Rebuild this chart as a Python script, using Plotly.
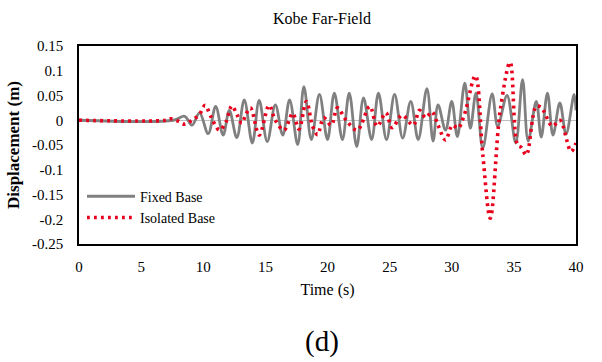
import plotly.graph_objects as go

# Fixed-base response: times (s) and displacements (m) at successive peaks/troughs
fixed_t = [0, 7.6, 8.5, 9.1, 9.7, 10.4, 11.0, 11.6, 12.1, 12.7, 13.3, 13.95, 14.5, 15.15,
           15.8, 16.4, 16.95, 17.6, 18.1, 18.7, 19.35, 20.0, 20.55, 21.2, 21.75, 22.35,
           22.9, 23.55, 24.1, 24.75, 25.4, 26.05, 26.7, 27.3, 28.0, 28.5, 28.9, 29.5,
           30.0, 30.45, 31.05, 31.5, 31.95, 32.5, 33.25, 33.7, 34.45, 35.15, 35.7, 36.15,
           36.8, 37.2, 37.7, 38.15, 38.7, 39.2, 39.85, 40]
fixed_v = [0, 0, 0.008, -0.01, 0.015, -0.027, 0.028, -0.03, 0.02, -0.035, 0.041, -0.046,
           0.04, -0.043, 0.031, -0.03, 0.041, -0.049, 0.068, -0.039, 0.052, -0.039, 0.055,
           -0.039, 0.055, -0.053, 0.045, -0.039, 0.055, -0.039, 0.052, -0.036, 0.038,
           -0.039, 0.064, -0.042, 0.031, -0.02, 0.038, -0.033, 0.075, -0.016, 0.055,
           -0.056, 0.053, -0.012, 0.05, -0.046, 0.082, -0.042, 0.038, -0.034, 0.055,
           -0.03, 0.035, -0.028, 0.052, 0.02]

# Isolated-base response
iso_t = [0, 7.0, 7.4, 8.0, 8.5, 9.1, 9.7, 10.15, 10.6, 11.3, 11.8, 12.3, 12.7, 13.1, 13.4,
         13.8, 14.5, 15.3, 15.8, 16.5, 17.2, 17.7, 18.3, 18.8, 19.2, 19.7, 20.3, 20.8,
         21.5, 22.4, 23.4, 24.0, 24.7, 25.2, 26.0, 26.9, 27.4, 27.9, 28.4, 28.9, 29.5,
         30.05, 30.5, 31.0, 31.9, 32.5, 33.1, 33.9, 34.7, 35.3, 35.6, 36.0, 36.8, 37.2,
         38.1, 38.7, 39.6, 40]
iso_v = [0, 0, 0.003, -0.002, -0.008, 0.0, 0.012, 0.03, 0.008, -0.02, -0.005, 0.029,
         0.012, -0.006, 0.01, 0.025, -0.03, 0.03, 0.0, -0.02, 0.014, -0.018, 0.038, -0.012,
         -0.029, 0.005, -0.01, 0.025, 0.0, -0.02, 0.028, -0.012, 0.015, -0.015, 0.01,
         -0.01, 0.02, 0.005, 0.017, -0.01, -0.04, -0.01, -0.016, 0.01, 0.09, -0.07,
         -0.198, 0.02, 0.117, -0.05, -0.055, -0.07, 0.028, 0.026, -0.012, 0.0, -0.063,
         -0.046]

x_ticks = [0, 5, 10, 15, 20, 25, 30, 35, 40]
y_ticks = [0.15, 0.1, 0.05, 0, -0.05, -0.1, -0.15, -0.2, -0.25]
y_tick_text = ["0.15", "0.1", "0.05", "0", "-0.05", "-0.1", "-0.15", "-0.2", "-0.25"]

SERIF = "'Liberation Serif', 'Times New Roman', 'DejaVu Serif', serif"

W, H = 602, 362
ML, MR, MT, MB = 75, 26, 46, 118


def px_to_paper(xp, yp):
    """Convert a pixel position on the page to paper coordinates of the plot area."""
    pw, ph = W - ML - MR, H - MT - MB
    return (xp - ML) / pw, (H - MB - yp) / ph


fig = go.Figure()
fig.add_trace(go.Scatter(
    x=fixed_t, y=fixed_v, mode="lines", name="Fixed Base",
    line=dict(color="rgb(128,128,128)", width=2.8, shape="spline", smoothing=1.0),
))
fig.add_trace(go.Scatter(
    x=iso_t, y=iso_v, mode="lines", name="Isolated Base",
    line=dict(color="rgb(232,0,28)", width=3.6, shape="spline", smoothing=1.0,
              dash="2.8px,4.2px"),
))

tx, ty = px_to_paper(320, 19)
dx, dy = px_to_paper(320, 341)

fig.update_layout(
    width=W, height=H,
    margin=dict(l=ML, r=MR, t=MT, b=MB),
    paper_bgcolor="white", plot_bgcolor="white",
    font=dict(family=SERIF, color="black", size=15),
    showlegend=True,
    legend=dict(x=0.006, y=0.32, xanchor="left", yanchor="top",
                bgcolor="rgba(0,0,0,0)", font=dict(size=14, family=SERIF),
                tracegroupgap=0, itemwidth=48),
    annotations=[
        dict(text="Kobe Far-Field", x=tx, y=ty, xref="paper", yref="paper",
             xanchor="center", yanchor="middle",
             showarrow=False, font=dict(size=16, family=SERIF)),
        dict(text="(d)", x=dx, y=dy, xref="paper", yref="paper",
             xanchor="center", yanchor="middle",
             showarrow=False, font=dict(size=29, family=SERIF)),
    ],
)

fig.update_xaxes(
    range=[0, 40], tickvals=x_ticks, ticktext=[str(v) for v in x_ticks],
    showline=True, linecolor="black", linewidth=1.5, mirror=True,
    showgrid=False, zeroline=False, ticks="", ticklabelstandoff=8,
    tickfont=dict(size=15, family=SERIF),
    title=dict(text="Time (s)", font=dict(size=16, family=SERIF), standoff=10),
)
fig.update_yaxes(
    range=[-0.25, 0.15], tickvals=y_ticks, ticktext=y_tick_text,
    showline=True, linecolor="black", linewidth=1.5, mirror=True,
    showgrid=False, zeroline=True, zerolinecolor="rgb(190,190,190)", zerolinewidth=1,
    ticks="", ticklabelstandoff=11,
    tickfont=dict(size=15, family=SERIF),
    title=dict(text="<b>Displacement (m)</b>", font=dict(size=17, family=SERIF), standoff=8),
)

fig.write_html("out.html")
